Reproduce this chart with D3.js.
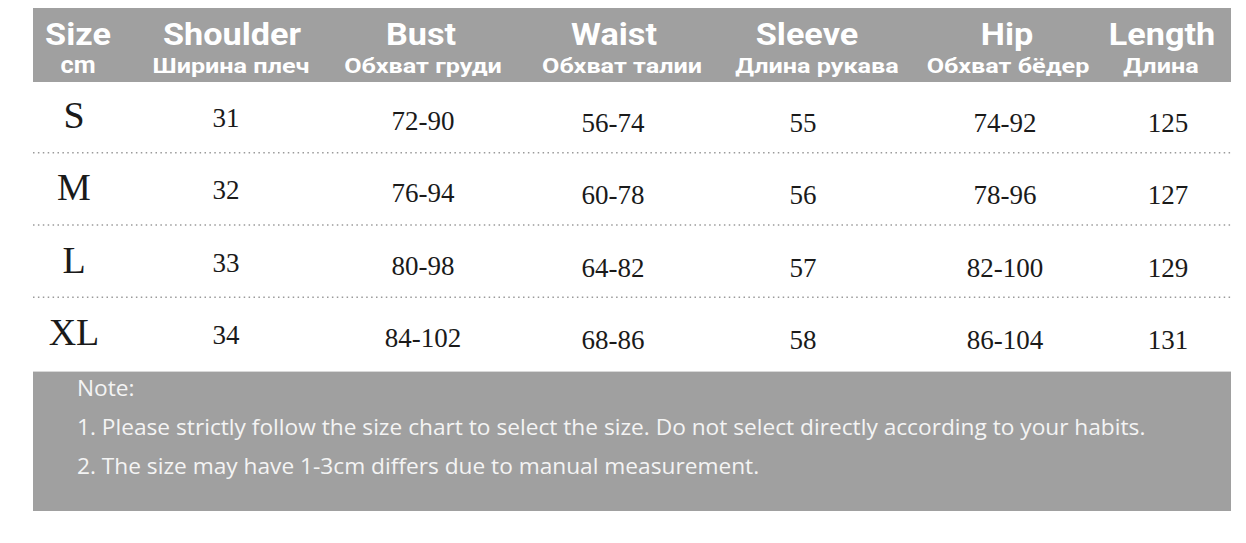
<!DOCTYPE html>
<html>
<head>
<meta charset="utf-8">
<script src="https://cdn.jsdelivr.net/npm/d3@7"></script>
<style>
  body { margin: 0; background: #fff; }
  svg { display: block; }
</style>
</head>
<body>
<div id="chart"></div>
<script>
// size chart data
const sizes = ['S', 'M', 'L', 'XL'];
const shoulder = ['31', '32', '33', '34'];
const bust = ['72-90', '76-94', '80-98', '84-102'];
const waist = ['56-74', '60-78', '64-82', '68-86'];
const sleeve = ['55', '56', '57', '58'];
const hip = ['74-92', '78-96', '82-100', '86-104'];
const length = ['125', '127', '129', '131'];

const headersEn = ['Size', 'Shoulder', 'Bust', 'Waist', 'Sleeve', 'Hip', 'Length'];
const headersRu = ['cm', 'Ширина плеч', 'Обхват груди', 'Обхват талии', 'Длина рукава', 'Обхват бёдер', 'Длина'];

const notes = [
  'Note:',
  '1. Please strictly follow the size chart to select the size. Do not select directly according to your habits.',
  '2. The size may have 1-3cm differs due to manual measurement.',
];

const columns = [sizes, shoulder, bust, waist, sleeve, hip, length];

const width = 1246;
const height = 543;
const left = 33;
const right = 1231;
const headTop = 8;
const headBottom = 82;
const bodyBottom = 371;
const noteBottom = 511;
const grey = '#a0a0a0';

// column centres (the columns are not evenly spaced in the original)
const colX = d3.scaleOrdinal()
  .domain(d3.range(headersEn.length))
  .range([78, 232, 421, 614, 807, 1007, 1162]);
const ruX = d3.scaleOrdinal()
  .domain(d3.range(headersRu.length))
  .range([78, 231, 423, 622, 817, 1008, 1161]);
const valX = d3.scaleOrdinal()
  .domain(d3.range(columns.length))
  .range([74, 226, 423, 613, 803, 1005, 1168]);

// values sit a little lower towards the right of the table
const drop = [46, 45, 48, 50, 50, 50, 50];

const rowY = d3.scaleBand().domain(sizes).range([headBottom, bodyBottom]);

const svg = d3.select('#chart')
  .append('svg')
  .attr('width', width)
  .attr('height', height)
  .attr('viewBox', `0 0 ${width} ${height}`);

// header band
svg.append('rect')
  .attr('x', left).attr('y', headTop)
  .attr('width', right - left).attr('height', headBottom - headTop)
  .attr('fill', grey);

const head = svg.append('g')
  .attr('fill', '#fff')
  .attr('font-family', 'Roboto, sans-serif')
  .attr('font-weight', 'bold')
  .attr('text-anchor', 'middle');

head.selectAll('text.en')
  .data(headersEn)
  .join('text')
  .attr('class', 'en')
  .attr('transform', (d, i) => `translate(${colX(i)},45) scale(1.07,1)`)
  .attr('font-size', 32)
  .text((d) => d);

head.selectAll('text.ru')
  .data(headersRu)
  .join('text')
  .attr('class', 'ru')
  .attr('transform', (d, i) => `translate(${ruX(i)},73) scale(${i === 0 ? 1.1 : 1.2},1)`)
  .attr('font-size', (d, i) => (i === 0 ? 23 : 21))
  .text((d) => d);

// dotted separators between rows
svg.append('g')
  .selectAll('line')
  .data(sizes.slice(1))
  .join('line')
  .attr('x1', left).attr('x2', right)
  .attr('y1', (d) => rowY(d) - 1.5)
  .attr('y2', (d) => rowY(d) - 1.5)
  .attr('stroke', '#9a9a9a')
  .attr('stroke-width', 1.5)
  .attr('stroke-dasharray', '1.5,3.4');

// table body
const body = svg.append('g')
  .attr('fill', '#1a1a1a')
  .attr('font-family', '"Liberation Serif", "Times New Roman", serif')
  .attr('text-anchor', 'middle');

columns.forEach((col, ci) => {
  body.append('g')
    .selectAll('text')
    .data(col)
    .join('text')
    .attr('x', valX(ci))
    .attr('y', (d, ri) => rowY(sizes[ri]) + drop[ci])
    .attr('font-size', ci === 0 ? 38 : 27)
    .text((d) => d);
});

// note box
svg.append('rect')
  .attr('x', left).attr('y', bodyBottom)
  .attr('width', right - left).attr('height', noteBottom - bodyBottom)
  .attr('fill', grey);

svg.append('line')
  .attr('x1', left).attr('x2', right)
  .attr('y1', bodyBottom + 0.5).attr('y2', bodyBottom + 0.5)
  .attr('stroke', '#d8d8d8');

const noteY = d3.scalePoint().domain(d3.range(notes.length)).range([396, 474]);

svg.append('g')
  .attr('fill', '#f4f4f4')
  .attr('font-family', '"Open Sans", "Noto Sans", sans-serif')
  .selectAll('text')
  .data(notes)
  .join('text')
  .attr('x', 77)
  .attr('y', (d, i) => noteY(i))
  .attr('font-size', 22.7)
  .text((d) => d);
</script>
</body>
</html>
